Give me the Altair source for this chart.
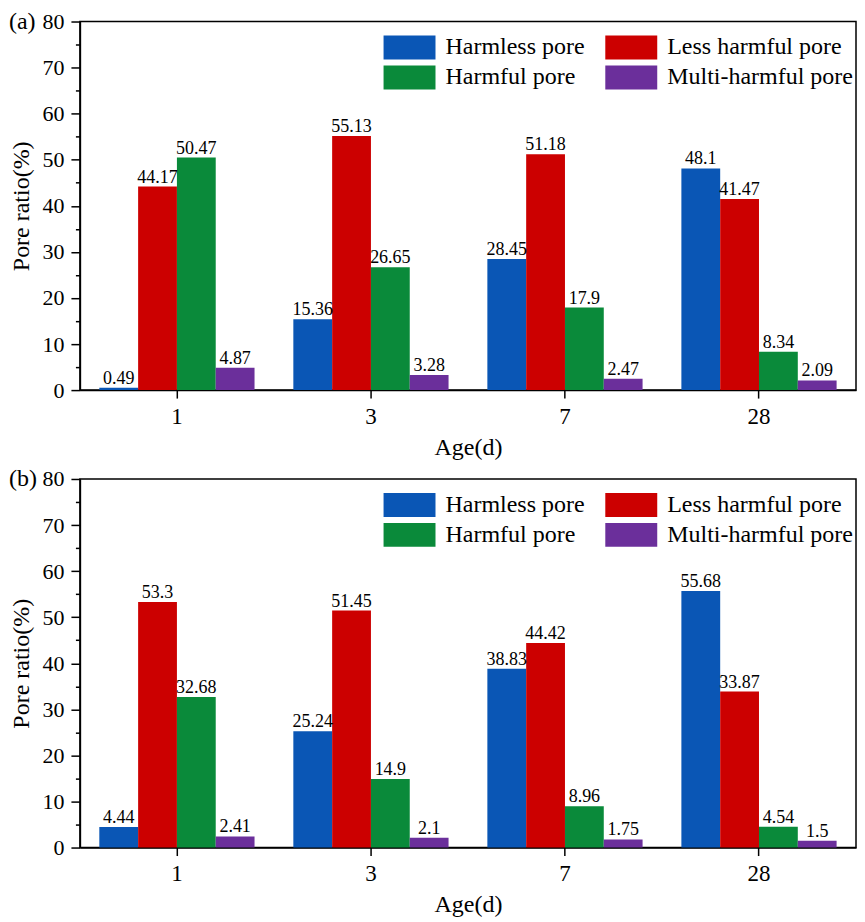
import altair as alt
import pandas as pd

ages = ["1", "3", "7", "28"]
types = ["Harmless pore", "Less harmful pore", "Harmful pore", "Multi-harmful pore"]
type_colors = {"Harmless pore": "#0a56b5", "Less harmful pore": "#cc0000",
               "Harmful pore": "#0a8a3a", "Multi-harmful pore": "#6b2f9b"}
# legend is laid out row by row in the reference: Harmless / Less harmful, then Harmful / Multi-harmful
legend_order = ["Harmless pore", "Harmful pore", "Less harmful pore", "Multi-harmful pore"]

a_harmless = [0.49, 15.36, 28.45, 48.1]
a_less = [44.17, 55.13, 51.18, 41.47]
a_harmful = [50.47, 26.65, 17.9, 8.34]
a_multi = [4.87, 3.28, 2.47, 2.09]

b_harmless = [4.44, 25.24, 38.83, 55.68]
b_less = [53.3, 51.45, 44.42, 33.87]
b_harmful = [32.68, 14.9, 8.96, 4.54]
b_multi = [2.41, 2.1, 1.75, 1.5]

y_ticks = list(range(0, 90, 10))
y_minor = list(range(5, 80, 10))
FONT = "Liberation Serif"


def make_df(series):
    rows = []
    for t, vals in zip(types, series):
        for age, v in zip(ages, vals):
            rows.append({"age": age, "type": t, "value": v, "label": f"{v:g}"})
    return pd.DataFrame(rows)


def panel(series, tag, height):
    df = make_df(series)
    base = alt.Chart(df)
    x = alt.X("age:N", sort=ages, title="Age(d)",
              scale=alt.Scale(paddingInner=0.2, paddingOuter=0.1),
              axis=alt.Axis(labelAngle=0, labelFont=FONT, titleFont=FONT))
    xo = alt.XOffset("type:N", sort=types,
                     scale=alt.Scale(paddingInner=0, paddingOuter=0))
    yscale = alt.Scale(domain=[0, 80], nice=False, zero=True)
    bars = base.mark_bar().encode(
        x=x, xOffset=xo,
        y=alt.Y("value:Q", scale=yscale, title="Pore ratio(%)",
                axis=alt.Axis(values=y_ticks, tickSize=9, labelPadding=7,
                              titlePadding=8, labelFont=FONT, titleFont=FONT)),
        color=alt.Color("type:N",
                        scale=alt.Scale(domain=legend_order,
                                        range=[type_colors[t] for t in legend_order]),
                        legend=alt.Legend(orient="none", legendX=304, legendY=13,
                                          columns=2, title=None,
                                          symbolType="M-1,-0.92H3V0.92H-1Z",
                                          symbolSize=676, symbolStrokeWidth=0,
                                          symbolOpacity=1,
                                          labelFont=FONT, labelFontSize=24,
                                          labelColor="black", labelOffset=36,
                                          labelLimit=0, columnPadding=20,
                                          rowPadding=5, padding=0, offset=0)),
    )
    labels = base.mark_text(baseline="alphabetic", dy=-4, fontSize=18,
                            font=FONT, color="black").encode(
        x=x, xOffset=xo,
        y=alt.Y("value:Q", scale=yscale, title=None,
                axis=alt.Axis(orient="left", values=y_minor, labels=False,
                              domain=False, tickSize=4.5, grid=False)),
        text="label:N",
    )
    tagc = alt.Chart(pd.DataFrame({"t": [tag]})).mark_text(
        align="left", baseline="middle", fontSize=24, font=FONT, color="black"
    ).encode(text="t:N", x=alt.value(-71), y=alt.value(0))
    return alt.layer(bars, labels, tagc).resolve_axis(y="independent").properties(
        width=777, height=height)


pa = panel([a_harmless, a_less, a_harmful, a_multi], "(a)", 369)
pb = panel([b_harmless, b_less, b_harmful, b_multi], "(b)", 369)

chart = alt.vconcat(pa, pb, spacing=6).resolve_legend(color="independent").properties(
    padding={"left": 0, "top": 0, "right": 0, "bottom": 0}
).configure_axis(
    labelFont=FONT, titleFont=FONT, labelColor="black", titleColor="black",
    domainColor="black", tickColor="black", domainWidth=1.5, tickWidth=1.5,
    grid=False, titleFontWeight="normal", labelFontSize=22, titleFontSize=24,
).configure_axisX(
    labelFontSize=23, tickSize=8, labelPadding=7, titlePadding=7,
).configure_view(stroke="black", strokeWidth=1.5)

chart.save("out.html", embed_options={"renderer": "svg", "actions": False})
